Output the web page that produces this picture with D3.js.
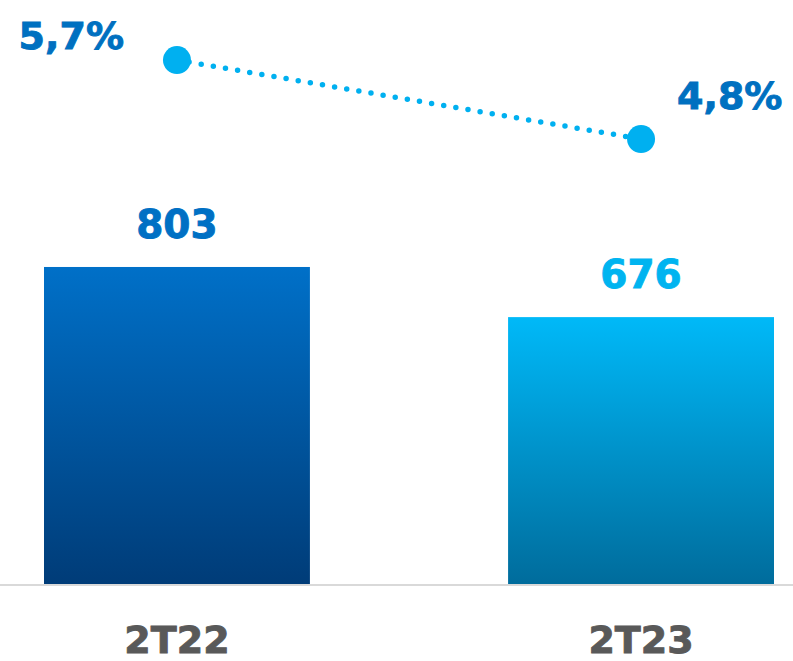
<!DOCTYPE html>
<html><head><meta charset="utf-8">
<script src="https://cdn.jsdelivr.net/npm/d3@7/dist/d3.min.js"></script>
<style>html,body{margin:0;padding:0;background:#fff;}svg{display:block;}</style>
</head><body>
<script>
const categories = ["2T22", "2T23"];
const barValues = [803, 676];
const barLabels = ["803", "676"];
const rateValues = [5.7, 4.8];
const rateLabels = ["5,7%", "4,8%"];

const W = 793, H = 661;
const svg = d3.select("body").append("svg").attr("width", W).attr("height", H);
const font = "'DejaVu Sans', sans-serif";

const x = d3.scaleBand().domain(categories).range([44, 774]).paddingInner(0.427).paddingOuter(0);
const y = d3.scaleLinear().domain([0, 1000]).range([584, 584 - 394.8]);
const y2 = d3.scaleLinear().domain([0, 6.5]).range([560.5, -10.2]);

const defs = svg.append("defs");
const grads = [["#0070C8", "#003C78"], ["#00B9F8", "#006C9C"]];
grads.forEach((g, i) => {
  const lg = defs.append("linearGradient").attr("id", "g" + i).attr("x1", 0).attr("y1", 0).attr("x2", 0).attr("y2", 1);
  lg.append("stop").attr("offset", "0%").attr("stop-color", g[0]);
  lg.append("stop").attr("offset", "100%").attr("stop-color", g[1]);
});

// bars
svg.selectAll("rect.bar").data(barValues).enter().append("rect")
  .attr("class", "bar")
  .attr("x", (d, i) => x(categories[i]))
  .attr("width", x.bandwidth())
  .attr("y", d => y(d))
  .attr("height", d => y(0) - y(d))
  .attr("fill", (d, i) => `url(#g${i})`);

// baseline
svg.append("line").attr("x1", 0).attr("x2", W).attr("y1", y(0) + 1).attr("y2", y(0) + 1)
  .attr("stroke", "#d9d9d9").attr("stroke-width", 2);

// bar labels
const barLabelColors = ["#0070C4", "#00B4F0"];
svg.selectAll("text.bl").data(barValues).enter().append("text")
  .attr("class", "bl")
  .attr("x", (d, i) => x(categories[i]) + x.bandwidth() / 2)
  .attr("y", d => y(d) - 29)
  .attr("text-anchor", "middle")
  .attr("font-family", font).attr("font-weight", "bold").attr("font-size", 39)
  .attr("fill", (d, i) => barLabelColors[i])
  .attr("stroke", (d, i) => barLabelColors[i]).attr("stroke-width", 0.9)
  .text((d, i) => barLabels[i]);

// category labels
svg.selectAll("text.cat").data(categories).enter().append("text")
  .attr("class", "cat")
  .attr("x", d => x(d) + x.bandwidth() / 2)
  .attr("y", 653)
  .attr("text-anchor", "middle")
  .attr("font-family", font).attr("font-weight", "bold").attr("font-size", 38)
  .attr("fill", "#595959").attr("stroke", "#595959").attr("stroke-width", 0.9)
  .text(d => d);

// line
const pts = rateValues.map((v, i) => [x(categories[i]) + x.bandwidth() / 2, y2(v)]);
svg.append("path").attr("d", d3.line()(pts))
  .attr("fill", "none").attr("stroke", "#00B0F0").attr("stroke-width", 5.5)
  .attr("stroke-linecap", "round").attr("stroke-dasharray", "0 12.3");
svg.selectAll("circle.pt").data(pts).enter().append("circle")
  .attr("class", "pt").attr("cx", d => d[0]).attr("cy", d => d[1]).attr("r", 14)
  .attr("fill", "#00B0F0");

// rate labels
const rl = [{dx: -53, dy: -11, anchor: "end"}, {dx: 36, dy: -30, anchor: "start"}];
svg.selectAll("text.rl").data(pts).enter().append("text")
  .attr("class", "rl")
  .attr("x", (d, i) => d[0] + rl[i].dx)
  .attr("y", (d, i) => d[1] + rl[i].dy)
  .attr("text-anchor", (d, i) => rl[i].anchor)
  .attr("font-family", font).attr("font-weight", "bold").attr("font-size", 38)
  .attr("fill", "#0070C0").attr("stroke", "#0070C0").attr("stroke-width", 0.9)
  .text((d, i) => rateLabels[i]);
</script>
</body></html>
